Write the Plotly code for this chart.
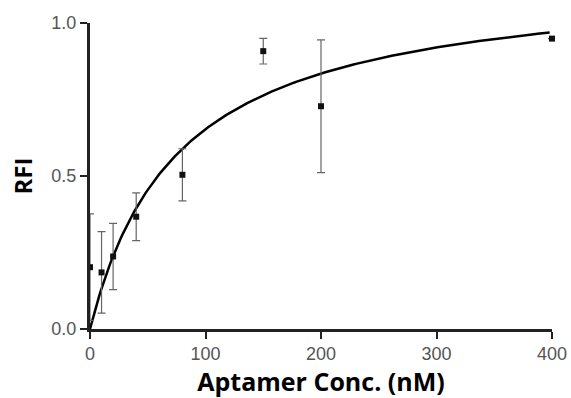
import numpy as np
import plotly.graph_objects as go

# Data
conc = [0, 10, 20, 40, 80, 150, 200, 400]
rfi = [0.202, 0.185, 0.237, 0.367, 0.504, 0.908, 0.728, 0.949]
rfi_err = [0.174, 0.133, 0.108, 0.078, 0.085, 0.042, 0.217, 0.0]

# One-site binding fit parameters
bmax = 1.157
kd = 77.2

x_ticks = [0, 100, 200, 300, 400]
y_ticks = [0.0, 0.5, 1.0]
y_tick_labels = ["0.0", "0.5", "1.0"]

xfit = np.linspace(0, 398, 300)
yfit = bmax * xfit / (kd + xfit)

fig = go.Figure()
fig.add_trace(go.Scatter(
    x=xfit, y=yfit, mode="lines",
    line=dict(color="black", width=2.5),
    cliponaxis=False, showlegend=False, hoverinfo="skip"))
fig.add_trace(go.Scatter(
    x=conc, y=rfi, mode="markers",
    marker=dict(symbol="square", size=6, color="#111111"),
    error_y=dict(type="data", array=rfi_err, visible=True,
                 color="#666666", thickness=1.2, width=4),
    cliponaxis=False, showlegend=False))

fig.update_layout(
    width=571, height=398,
    margin=dict(l=90, r=19, t=23, b=69),
    paper_bgcolor="white", plot_bgcolor="white",
    font=dict(family="Liberation Sans, Arial", size=18, color="#555555"),
)
fig.update_xaxes(
    range=[0, 400], tickvals=x_ticks, ticks="outside", ticklen=7,
    tickwidth=2, tickcolor="#222222", automargin=False,
    showline=True, linecolor="#222222", linewidth=2.5,
    showgrid=False, zeroline=False,
    title=dict(text="<b>Aptamer Conc. (nM)</b>", standoff=4,
               font=dict(family="Open Sans", size=25, color="black")),
)
fig.update_yaxes(
    range=[0, 1], tickvals=y_ticks, ticktext=y_tick_labels,
    ticks="outside", ticklen=7, tickwidth=2, tickcolor="#222222",
    showline=True, linecolor="#222222", linewidth=3, automargin=False,
    showgrid=False, zeroline=False,
    title=dict(text="<b>RFI</b>", standoff=12,
               font=dict(family="Open Sans", size=24, color="black")),
)

fig.write_html("out.html", config={"displayModeBar": False},
               post_script="document.body.style.margin='0';document.body.style.overflow='hidden';")
